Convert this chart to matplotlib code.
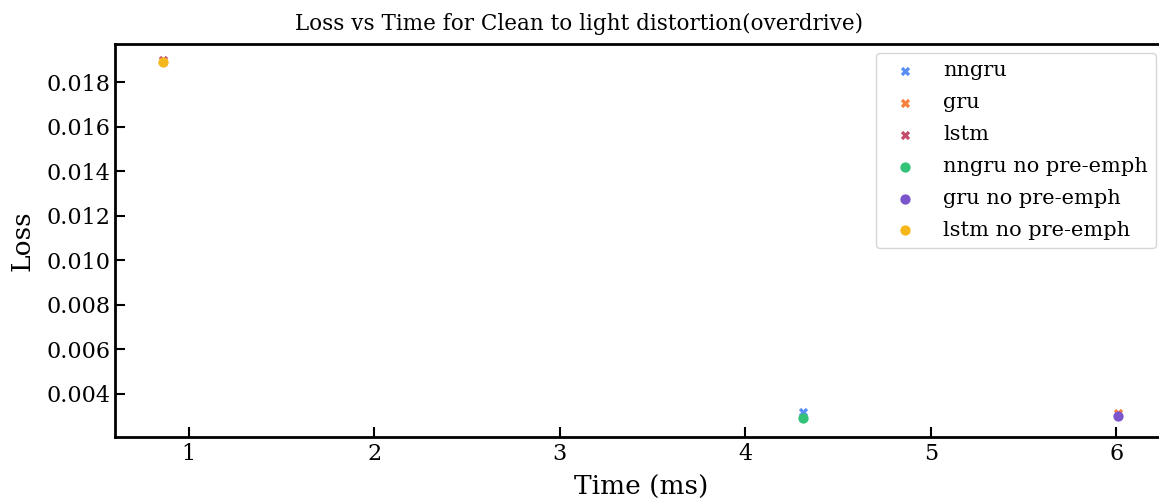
import matplotlib
matplotlib.use("Agg")
import matplotlib.pyplot as plt

plt.rcParams['font.family'] = ['DejaVu Serif']

labels = ["nngru", "gru", "lstm", "nngru no pre-emph", "gru no pre-emph", "lstm no pre-emph"]
times = [4.31, 6.01, 0.86, 4.31, 6.01, 0.86]
losses = [0.00318, 0.00316, 0.01902, 0.00292, 0.00300, 0.01892]
markers = ["X", "X", "X", "o", "o", "o"]
colors = ["#5a8ef5", "#f5813d", "#c44b6c", "#34c279", "#7b55cc", "#f4b81c"]

fig = plt.figure(figsize=(11.59, 4.99), dpi=100)
ax = fig.add_axes([115/1159, 1-436.5/499, (1167-115)/1159, (436.5-44)/499])

for lab, t, l, m, c in zip(labels, times, losses, markers, colors):
    ax.scatter([t], [l], marker=m, color=c, s=45 if m == "X" else 55, label=lab,
               linewidths=0, zorder=3 if m == "o" else 2)

ax.set_xlim(0.602, 6.274)
ax.set_ylim(0.00209, 0.01972)
ax.set_xticks([1, 2, 3, 4, 5, 6])
ax.set_yticks([0.004, 0.006, 0.008, 0.010, 0.012, 0.014, 0.016, 0.018])
ax.tick_params(direction='in', length=7, width=1.5, labelsize=16)
ax.tick_params(axis='x', pad=5)
for s in ax.spines.values():
    s.set_linewidth(2)
ax.set_xlabel("Time (ms)", fontsize=19, labelpad=7)
ax.set_ylabel("Loss", fontsize=19, labelpad=8)
fig.suptitle("Loss vs Time for Clean to light distortion(overdrive)", fontsize=15.5,
             x=0.5, y=0.975)

leg = ax.legend(loc='upper right', bbox_to_anchor=(1156/1159, 1-53/499),
                bbox_transform=fig.transFigure, borderaxespad=0, fontsize=15,
                labelspacing=0.62, frameon=True, fancybox=True, edgecolor='#cccccc')

fig.savefig("out.png", dpi=100)
